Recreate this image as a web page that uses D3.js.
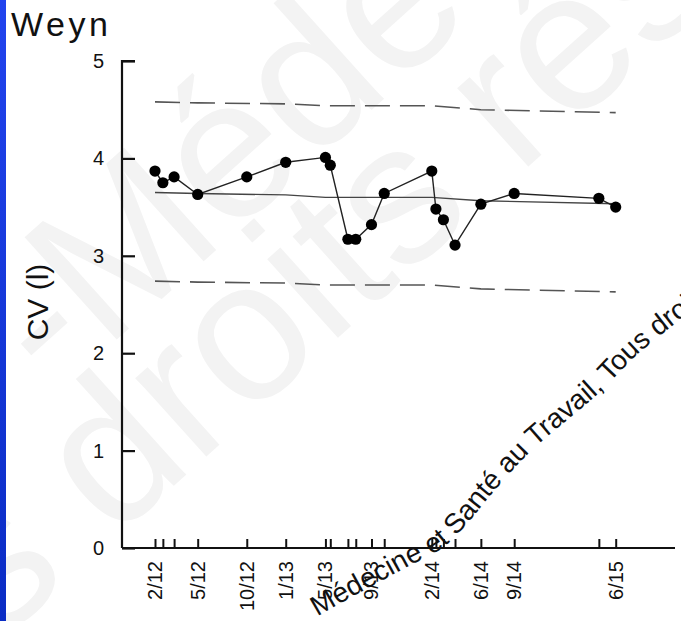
<!DOCTYPE html>
<html>
<head>
<meta charset="utf-8">
<script src="https://cdn.jsdelivr.net/npm/d3@7"></script>
<style>
  html, body { margin: 0; padding: 0; background: #ffffff; }
  svg { display: block; }
</style>
</head>
<body>
<svg id="chart" width="681" height="621"></svg>
<script>
// Spirometry follow-up: measured vital capacity at each test date
const testDates = [
  '2012-02-01', '2012-02-22', '2012-03-23', '2012-05-25', '2012-10-03',
  '2013-01-15', '2013-05-01', '2013-05-14', '2013-06-30', '2013-07-21',
  '2013-09-01', '2013-10-05', '2014-02-09', '2014-02-20', '2014-03-12',
  '2014-04-12', '2014-06-20', '2014-09-17', '2015-05-01', '2015-06-15'
];
const cvValues = [
  3.87, 3.75, 3.81, 3.63, 3.81,
  3.96, 4.01, 3.93, 3.17, 3.17,
  3.32, 3.64, 3.87, 3.48, 3.37,
  3.11, 3.53, 3.64, 3.59, 3.50
];

// Predicted value and lower / upper limits of normal
const refDates  = ['2012-02-01', '2012-05-25', '2013-01-15', '2013-05-01', '2014-02-09', '2014-06-20', '2015-06-15'];
const refMean   = [3.65, 3.64, 3.625, 3.60, 3.60, 3.565, 3.535];
const refUpper  = [4.58, 4.57, 4.56, 4.54, 4.54, 4.50, 4.47];
const refLower  = [2.74, 2.73, 2.72, 2.70, 2.70, 2.66, 2.63];

// Dates that carry a written label on the time axis
const labelledDates = ['2012-02-01', '2012-05-25', '2012-10-03', '2013-01-15', '2013-05-01',
                       '2013-09-01', '2014-02-09', '2014-06-20', '2014-09-17', '2015-06-15'];
const yTicks = [0, 1, 2, 3, 4, 5];

const titleText = 'Weyn';
const yAxisTitle = 'CV (l)';
const stampText = 'Médecine et Santé au Travail, Tous droits réservés';

const FONT = "'Liberation Sans', Arial, Helvetica, sans-serif";
const parse = d3.timeParse('%Y-%m-%d');
const fmt = d3.timeFormat('%-m/%y');

const svg = d3.select('#chart');
const W = 681, H = 621;

// background and blue edge strip
const defs = svg.append('defs');
const grad = defs.append('linearGradient').attr('id', 'edge').attr('x1', 0).attr('y1', 0).attr('x2', 0).attr('y2', 1);
grad.append('stop').attr('offset', '0%').attr('stop-color', '#2244ee');
grad.append('stop').attr('offset', '100%').attr('stop-color', '#0a2cc4');
svg.append('rect').attr('width', W).attr('height', H).attr('fill', '#ffffff');

// faint background stamp
const faint = svg.append('g').attr('font-family', FONT).attr('fill', '#f3f3f3').attr('font-size', 200);
faint.append('text').attr('transform', 'translate(55,395) rotate(-42)').text('-Médecine');
faint.append('text').attr('transform', 'translate(-242,860) rotate(-42)').text('Tous droits réservés');

svg.append('rect').attr('x', 0).attr('y', 0).attr('width', 6).attr('height', H).attr('fill', 'url(#edge)');

const x = d3.scaleTime()
  .domain([parse(testDates[0]), parse(testDates[testDates.length - 1])])
  .range([155, 615.7]);
const y = d3.scaleLinear().domain([0, 5]).range([548, 61]);

const axisX0 = 122, axisY0 = 548;

// y axis: ticks point into the plot
const yAxis = d3.axisRight(y).tickValues(yTicks).tickSize(13).tickFormat('');
const gy = svg.append('g').attr('transform', `translate(${axisX0},0)`).call(yAxis);
gy.select('.domain').attr('d', `M13,${y(5)}H0V${axisY0}`).attr('stroke', '#111').attr('stroke-width', 2.2).attr('fill', 'none');
gy.selectAll('.tick line').attr('stroke', '#111').attr('stroke-width', 2.2);
svg.append('g').selectAll('text').data(yTicks).join('text')
  .attr('x', 104).attr('y', d => y(d)).attr('dy', '0.35em')
  .attr('text-anchor', 'end').attr('font-family', FONT).attr('font-size', 20).attr('fill', '#111')
  .text(d => d);

// x axis: a tick for every test, labels on selected dates
const xAxis = d3.axisTop(x).tickValues(testDates.map(parse)).tickSize(9).tickFormat('');
const gx = svg.append('g').attr('transform', `translate(0,${axisY0})`).call(xAxis);
gx.select('.domain').attr('d', `M${axisX0},0H675`).attr('stroke', '#111').attr('stroke-width', 2.2);
gx.selectAll('.tick line').attr('stroke', '#111').attr('stroke-width', 2);
svg.append('g').selectAll('text').data(labelledDates.map(parse)).join('text')
  .attr('transform', d => `translate(${x(d)},561) rotate(-90)`)
  .attr('dy', '0.35em').attr('text-anchor', 'end')
  .attr('font-family', FONT).attr('font-size', 20).attr('fill', '#111')
  .text(d => fmt(d));

// reference lines
const refPts = refDates.map((d, i) => ({ date: parse(d), mean: refMean[i], up: refUpper[i], lo: refLower[i] }));
const lineOf = key => d3.line().x(d => x(d.date)).y(d => y(d[key]));
svg.append('path').datum(refPts).attr('d', lineOf('mean'))
  .attr('fill', 'none').attr('stroke', '#444').attr('stroke-width', 1.4);
['up', 'lo'].forEach(k => {
  svg.append('path').datum(refPts).attr('d', lineOf(k))
    .attr('fill', 'none').attr('stroke', '#555').attr('stroke-width', 1.6)
    .attr('stroke-dasharray', '25,10');
});

// measured series
const pts = testDates.map((d, i) => ({ date: parse(d), v: cvValues[i] }));
svg.append('path').datum(pts)
  .attr('d', d3.line().x(d => x(d.date)).y(d => y(d.v)))
  .attr('fill', 'none').attr('stroke', '#222').attr('stroke-width', 1.4);
svg.append('g').selectAll('circle').data(pts).join('circle')
  .attr('cx', d => x(d.date)).attr('cy', d => y(d.v)).attr('r', 5.6).attr('fill', '#000');

// titles
svg.append('text').attr('x', 11).attr('y', 36).attr('font-family', FONT).attr('font-size', 34)
  .attr('letter-spacing', 3.5).attr('fill', '#111').text(titleText);
svg.append('text').attr('transform', 'translate(48,302) rotate(-90)').attr('text-anchor', 'middle')
  .attr('font-family', FONT).attr('font-size', 30).attr('fill', '#111').text(yAxisTitle);

// curved publisher line running up to the right edge
const stampCurve = [[240, 665], [320, 615], [405, 568], [445, 546], [470, 520], [495, 490],
                    [530, 452], [600, 392], [640, 352], [720, 290]];
defs.append('path').attr('id', 'stampPath')
  .attr('d', d3.line().curve(d3.curveCatmullRom)(stampCurve));
const stampNode = document.getElementById('stampPath');
const stampFontSize = 28;
// locate the anchor point where "Santé" should start
const probe = svg.append('text').attr('font-family', FONT).attr('font-size', stampFontSize)
  .text('Médecine et ');
const prefixLen = probe.node().getComputedTextLength();
probe.remove();
let bestL = 0, bestD = Infinity;
const total = stampNode.getTotalLength();
for (let l = 0; l <= total; l += 1) {
  const p = stampNode.getPointAtLength(l);
  const dd = (p.x - 452) ** 2 + (p.y - 544) ** 2;
  if (dd < bestD) { bestD = dd; bestL = l; }
}
svg.append('text').attr('font-family', FONT).attr('font-size', stampFontSize).attr('fill', '#111')
  .append('textPath').attr('href', '#stampPath').attr('startOffset', bestL - prefixLen)
  .text(stampText);
</script>
</body>
</html>
